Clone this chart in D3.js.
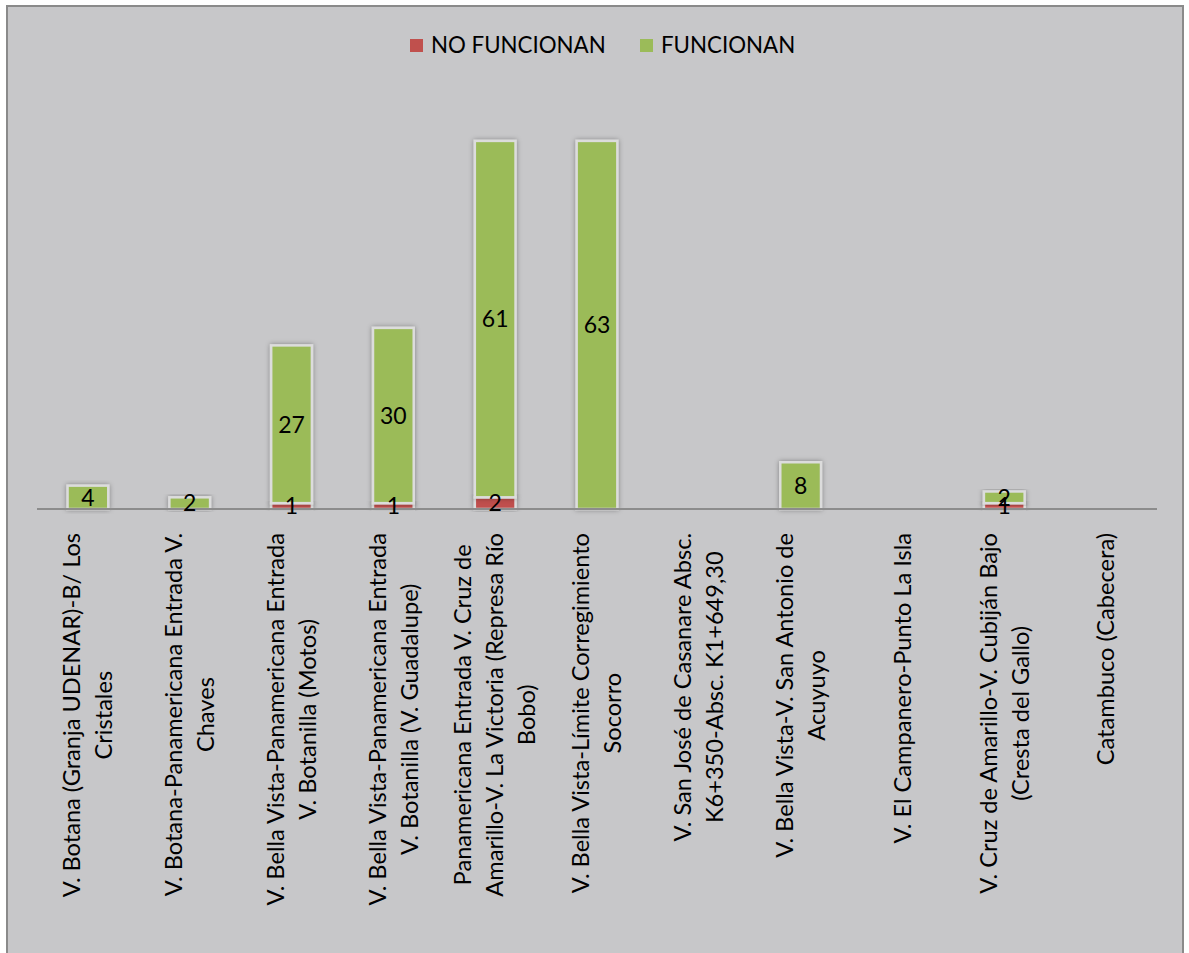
<!DOCTYPE html>
<html>
<head>
<meta charset="utf-8">
<script src="https://cdn.jsdelivr.net/npm/d3@7"></script>
<style>
  html, body { margin: 0; padding: 0; background: #ffffff; }
  svg { display: block; }
  text { font-family: Lato, "Open Sans", sans-serif; fill: #000; }
</style>
</head>
<body>
<svg id="chart" width="1189" height="953"></svg>
<script>
// Tramos de vía (categorías del eje X), una entrada por línea de texto
const categories = [
  ["V. Botana (Granja UDENAR)-B/ Los", "Cristales"],
  ["V. Botana-Panamericana Entrada V.", "Chaves"],
  ["V. Bella Vista-Panamericana Entrada", "V. Botanilla (Motos)"],
  ["V. Bella Vista-Panamericana Entrada", "V. Botanilla (V. Guadalupe)"],
  ["Panamericana Entrada V. Cruz de", "Amarillo-V. La Victoria (Represa Río", "Bobo)"],
  ["V. Bella Vista-Límite Corregimiento", "Socorro"],
  ["V. San José de Casanare Absc.", "K6+350-Absc. K1+649,30"],
  ["V. Bella Vista-V. San Antonio de", "Acuyuyo"],
  ["V. El Campanero-Punto La Isla"],
  ["V. Cruz de Amarillo-V. Cubiján Bajo", "(Cresta del Gallo)"],
  ["Catambuco (Cabecera)"]
];

const seriesNames = ["NO FUNCIONAN", "FUNCIONAN"];
const noFuncionan = [0, 0, 1, 1, 2, 0, 0, 0, 0, 1, 0];
const funcionan   = [4, 2, 27, 30, 61, 63, 0, 8, 0, 2, 0];
const seriesColors = ["#c0504d", "#9bbb59"];

const svg = d3.select("#chart");
const W = 1189, H = 953;

// Chart area background and frame (bottom edge runs past the page)
svg.append("rect").attr("x", 0).attr("y", 0).attr("width", W).attr("height", H).attr("fill", "#ffffff");
svg.append("rect")
  .attr("x", 7).attr("y", 6).attr("width", 1176).attr("height", 952)
  .attr("fill", "#c7c7c9").attr("stroke", "#8a8a8a").attr("stroke-width", 2);

// Soft outer shadow for the bars
const defs = svg.append("defs");
const f = defs.append("filter").attr("id", "barShadow")
  .attr("x", "-40%").attr("y", "-20%").attr("width", "180%").attr("height", "140%");
f.append("feGaussianBlur").attr("in", "SourceAlpha").attr("stdDeviation", 2.4).attr("result", "blur");
f.append("feFlood").attr("flood-color", "#000").attr("flood-opacity", 0.35).attr("result", "col");
f.append("feComposite").attr("in", "col").attr("in2", "blur").attr("operator", "in").attr("result", "shadow");
const fm = f.append("feMerge");
fm.append("feMergeNode").attr("in", "shadow");
fm.append("feMergeNode").attr("in", "SourceGraphic");

// Scales
const x = d3.scaleBand()
  .domain(d3.range(categories.length))
  .range([37, 1157])
  .paddingInner(0.6)
  .paddingOuter(0.3);

const y = d3.scaleLinear().domain([0, 70]).range([509, 100]);

// Stack data
const rows = categories.map((c, i) => ({ i, nf: noFuncionan[i], f: funcionan[i] }));
const stack = d3.stack().keys(["nf", "f"]);
const stacked = stack(rows);

const bars = svg.append("g");
stacked.forEach((layer, k) => {
  bars.append("g")
    .selectAll("rect")
    .data(layer.filter(d => d[1] - d[0] > 0))
    .join("rect")
    .attr("x", d => x(d.data.i))
    .attr("width", x.bandwidth())
    .attr("y", d => y(d[1]))
    .attr("height", d => y(d[0]) - y(d[1]))
    .attr("fill", seriesColors[k])
    .attr("stroke", "#dcdcdc")
    .attr("stroke-width", 2.5)
    .attr("filter", "url(#barShadow)");
});

// X axis baseline
svg.append("g")
  .attr("transform", `translate(0,${y(0)})`)
  .call(d3.axisBottom(x).tickSize(0).tickFormat(""))
  .call(g => g.select(".domain").attr("stroke", "#8c8c8c").attr("stroke-width", 2)
        .attr("d", "M37,0H1157"));

// Value labels centred in each segment
const labels = svg.append("g").attr("font-size", 23).attr("text-anchor", "middle");
stacked.forEach((layer) => {
  labels.append("g")
    .selectAll("text")
    .data(layer.filter(d => d[1] - d[0] > 0))
    .join("text")
    .attr("x", d => x(d.data.i) + x.bandwidth() / 2)
    .attr("y", d => (y(d[0]) + y(d[1])) / 2)
    .attr("dy", "0.36em")
    .text(d => d[1] - d[0]);
});

// Rotated, multi-line category labels
const fontSize = 23.6, lineH = 32, topY = 533;
const catG = svg.append("g").attr("font-size", fontSize);
categories.forEach((lines, i) => {
  const cx = x(i) + x.bandwidth() / 2;
  const g = catG.append("g").attr("transform", `translate(${cx},${topY}) rotate(-90)`);
  const texts = lines.map((ln, j) => g.append("text")
    .attr("text-anchor", "middle")
    .attr("y", (j - (lines.length - 1) / 2) * lineH)
    .attr("dy", "0.35em")
    .text(ln));
  const maxLen = d3.max(texts, t => t.node().getComputedTextLength());
  texts.forEach(t => t.attr("x", -maxLen / 2));
});

// Legend
const legend = svg.append("g").attr("font-size", 22.3);
const legendX = [410, 640];
seriesNames.forEach((name, k) => {
  legend.append("rect")
    .attr("x", legendX[k]).attr("y", 39).attr("width", 13).attr("height", 13)
    .attr("fill", seriesColors[k]);
  legend.append("text")
    .attr("x", legendX[k] + 21).attr("y", 45.5).attr("dy", "0.35em")
    .text(name);
});
</script>
</body>
</html>
